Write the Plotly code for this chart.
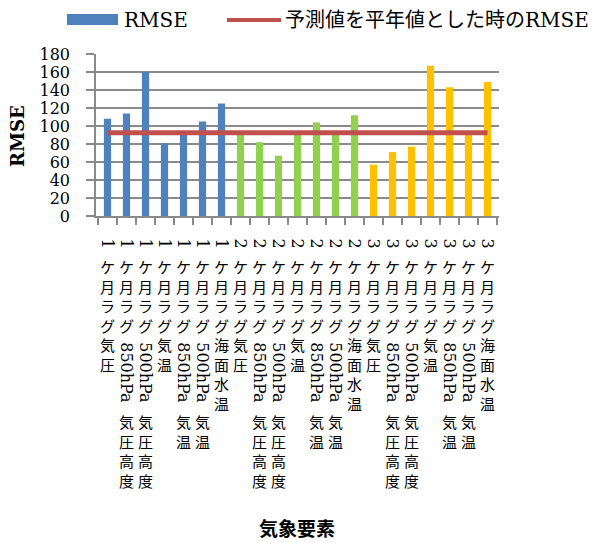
import re
import plotly.graph_objects as go

# ---------------- data ----------------
lags = ["1", "2", "3"]
elements = ["気圧", "850hPa気圧高度", "500hPa気圧高度", "気温",
            "850hPa気温", "500hPa気温", "海面水温"]
categories = [f"{lag}ケ月ラグ{el}" for lag in lags for el in elements]
rmse = [108, 114, 160, 81, 91, 105, 125,
        90, 82, 67, 91, 104, 92, 112,
        57, 71, 77, 167, 143, 91, 149]
baseline_rmse = 92.5
y_ticks = [0, 20, 40, 60, 80, 100, 120, 140, 160, 180]
legend_labels = ["RMSE", "予測値を平年値とした時のRMSE"]
x_title = "気象要素"
y_title = "RMSE"

# ---------------- style ----------------
group_colors = {"1": "#4F81BD", "2": "#92D050", "3": "#FFC000"}
line_color = "#C0504D"
grid_color = "#8A8A8A"
LATIN = "DejaVu Serif"
CJK = "Noto Sans CJK JP"

OFF = 8  # default page body margin
W, H = 606 - OFF, 543 - OFF
PL, PT, PR, PB = 96 - OFF, 54 - OFF, 499 - OFF, 216 - OFF
PW, PH = PR - PL, PB - PT


def px(x):
    return (x - OFF - PL) / PW


def py(y):
    return (PB - (y - OFF)) / PH


bar_colors = [group_colors[c[0]] for c in categories]

fig = go.Figure()
fig.add_trace(go.Bar(x=categories, y=rmse, marker_color=bar_colors,
                     marker_line_width=0, showlegend=False))
fig.add_trace(go.Scatter(x=categories, y=[baseline_rmse] * len(categories),
                         mode="lines", line=dict(color=line_color, width=5),
                         showlegend=False))

annotations = []
shapes = []

# vertical category labels
for i, cat in enumerate(categories):
    runs = re.findall(r"[0-9A-Za-z]+|[^0-9A-Za-z]+", cat)
    cursor = 20
    for k, run in enumerate(runs):
        if k > 0:
            cursor += 6
        if re.match(r"[0-9A-Za-z]", run):
            annotations.append(dict(
                x=i, xref="x", y=0, yref="paper", xanchor="center", yanchor="top",
                yshift=-cursor, text=run, textangle=90, showarrow=False,
                font=dict(family=LATIN, size=16, color="#000")))
            cursor += len(run) * 10.2 + 2
        else:
            annotations.append(dict(
                x=i, xref="x", y=0, yref="paper", xanchor="center", yanchor="top",
                yshift=-cursor, text="<br>".join(run), showarrow=False,
                font=dict(family=CJK, size=15, color="#000")))
            cursor += len(run) * 19.5 + 2

# axis titles
annotations.append(dict(x=px(297), xref="paper", y=py(527), yref="paper",
                        xanchor="center", yanchor="middle", showarrow=False,
                        text=f"<b>{x_title}</b>",
                        font=dict(family=CJK, size=19, color="#000")))
annotations.append(dict(x=px(17), xref="paper", y=py(136), yref="paper",
                        xanchor="center", yanchor="middle", showarrow=False,
                        textangle=-90, text=f"<b>{y_title}</b>",
                        font=dict(family=LATIN, size=18, color="#000")))

# manual legend
shapes.append(dict(type="rect", xref="paper", yref="paper",
                   x0=px(67), x1=px(118), y0=py(25), y1=py(14),
                   fillcolor=group_colors["1"], line_width=0))
shapes.append(dict(type="line", xref="paper", yref="paper",
                   x0=px(227), x1=px(281), y0=py(20), y1=py(20),
                   line=dict(color=line_color, width=4)))
annotations.append(dict(x=px(122), xref="paper", y=py(20), yref="paper",
                        xanchor="left", yanchor="middle", showarrow=False,
                        text=legend_labels[0],
                        font=dict(family=LATIN, size=20, color="#000")))
annotations.append(dict(x=px(283), xref="paper", y=py(20), yref="paper",
                        xanchor="left", yanchor="middle", showarrow=False,
                        text=legend_labels[1],
                        font=dict(family=f"{LATIN}, {CJK}", size=20, color="#000")))

fig.update_layout(
    width=W, height=H,
    margin=dict(l=PL, r=W - PR, t=PT, b=H - PB, autoexpand=False),
    paper_bgcolor="white", plot_bgcolor="white",
    bargap=0.62,
    showlegend=False,
    annotations=annotations,
    shapes=shapes,
    xaxis=dict(type="category", showticklabels=False, tickson="boundaries",
               ticks="outside", ticklen=7, tickcolor=grid_color, tickwidth=1.5,
               showline=True, linecolor=grid_color, linewidth=1.5,
               showgrid=False, zeroline=False),
    yaxis=dict(range=[0, 180], tickvals=y_ticks, ticks="outside", ticklen=8,
               tickcolor=grid_color, tickwidth=1.5,
               showline=True, linecolor=grid_color, linewidth=1.5,
               showgrid=True, gridcolor=grid_color, gridwidth=1.5,
               zeroline=False, ticklabelstandoff=13,
               tickfont=dict(family=LATIN, size=16, color="#000")),
)

fig.write_html("out.html")
